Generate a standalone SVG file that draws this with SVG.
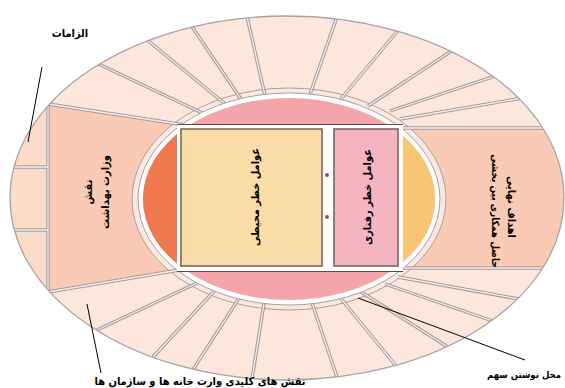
<svg xmlns="http://www.w3.org/2000/svg" width="565" height="388" viewBox="0 0 565 388">
<defs>
<clipPath id="outerClip"><ellipse cx="287" cy="198" rx="277" ry="182"/></clipPath>
<clipPath id="fieldClip"><ellipse cx="289" cy="199" rx="146" ry="101"/></clipPath>
<path id="divs" d="M48,104 L185,125 M90,60 L215,119 M140,34 L230,108 M186,18 L245,105 M245,8 L266,100 M340,8 L308,100 M405,22 L340,100 M462,44 L368,106 M510,71 L390,111 M540,95 L400,119 M398,128 L570,128 M398,268 L570,268 M535,302 L398,277 M510,327 L385,284 M462,356 L358,290 M406,378 L338,295 M342,392 L310,297 M250,392 L265,297 M185,382 L243,292 M140,371 L218,287 M82,337 L197,283 M48,292 L185,269 M0,167 L48,167 M0,230 L48,230 M48,104 L48,292"/>
</defs>
<style>
.d{fill:none;stroke:#a29b9a;stroke-width:3.4}
.di{fill:none;stroke:#f6eeea;stroke-width:1.3}
.t{font-family:"DejaVu Sans Condensed","DejaVu Sans",sans-serif;font-weight:bold;font-size:11px;fill:#000}
.tr{font-family:"DejaVu Sans Condensed","DejaVu Sans",sans-serif;font-weight:bold;font-size:11px;fill:#000}
.ptr{stroke:#000;stroke-width:1;fill:none}
</style>
<rect width="565" height="388" fill="#ffffff"/>
<g id="seating">
<ellipse cx="287" cy="198" rx="277" ry="182" fill="#fde6dc"/>
<g clip-path="url(#outerClip)">
<rect x="0" y="100" width="48" height="200" fill="#fcdcc8"/>
<polygon points="48,104 185,125 185,269 48,292" fill="#f9cab6"/>
<rect x="398" y="128" width="180" height="140" fill="#f9cab6"/>
</g>
<ellipse cx="289" cy="199" rx="157" ry="111" fill="#fce8df" stroke="#a8a0a0" stroke-width="1"/>
<g clip-path="url(#outerClip)">
<use href="#divs" class="d"/>
<use href="#divs" class="di"/>
</g>
<ellipse cx="287" cy="198" rx="277" ry="182" fill="none" stroke="#aaa2a2" stroke-width="1.3"/>
</g>
<g id="field">
<ellipse cx="289" cy="199" rx="151" ry="106" fill="#ffffff" stroke="#a8a0a0" stroke-width="1"/>
<ellipse cx="289" cy="199" rx="146" ry="101" fill="#f3a5a9"/>
<g clip-path="url(#fieldClip)">
<rect x="130" y="90" width="47" height="220" fill="#f0784f"/>
<rect x="403" y="90" width="40" height="220" fill="#f8c572"/>
</g>
<rect x="177" y="124.5" width="226" height="147" fill="#ffffff"/>
<line x1="177" y1="124.5" x2="403" y2="124.5" stroke="#5d4c44" stroke-width="1.2"/>
<line x1="177" y1="271.5" x2="403" y2="271.5" stroke="#5d4c44" stroke-width="1.2"/>
</g>
<g id="node-env">
<rect x="181" y="129" width="141" height="137" fill="#fadda7" stroke="#6e5f57" stroke-width="1.5"/>
<text class="tr" transform="translate(259,197) rotate(-90)" text-anchor="middle">عوامل خطر محیطی</text>
</g>
<g id="node-behav">
<rect x="334" y="129" width="64" height="137" fill="#f4b4c0" stroke="#6e5f57" stroke-width="1.5"/>
<text class="tr" transform="translate(371,197) rotate(-90)" text-anchor="middle">عوامل خطر رفتاری</text>
</g>
<g id="marks">
<circle cx="327" cy="175" r="2" fill="#a04a58"/>
<circle cx="327" cy="217" r="2" fill="#a04a58"/>
</g>
<g id="node-ministry">
<text class="tr" transform="translate(92,192) rotate(-90)" text-anchor="middle">نقش</text>
<text class="tr" transform="translate(109,192) rotate(-90)" text-anchor="middle">وزارت بهداشت</text>
</g>
<g id="node-goals">
<text class="tr" transform="translate(508,207) rotate(90)" text-anchor="middle">اهداف نهایی</text>
<text class="tr" transform="translate(492,211) rotate(90)" text-anchor="middle" style="font-size:10px">حاصل همکاری بین بخشی</text>
</g>
<g id="connectors">
<line class="ptr" x1="42" y1="67" x2="28" y2="142"/>
<line class="ptr" x1="87" y1="304" x2="101" y2="373"/>
<line class="ptr" x1="358" y1="298" x2="525" y2="360"/>
</g>
<g id="labels">
<text class="t" x="70" y="37" text-anchor="middle">الزامات</text>
<text class="t" x="200" y="385" text-anchor="middle">نقش های کلیدی وارت خانه ها و سازمان ها</text>
<text class="t" x="524" y="378" text-anchor="middle" style="font-size:9.5px">محل نوشتن سهم</text>
</g>
</svg>
